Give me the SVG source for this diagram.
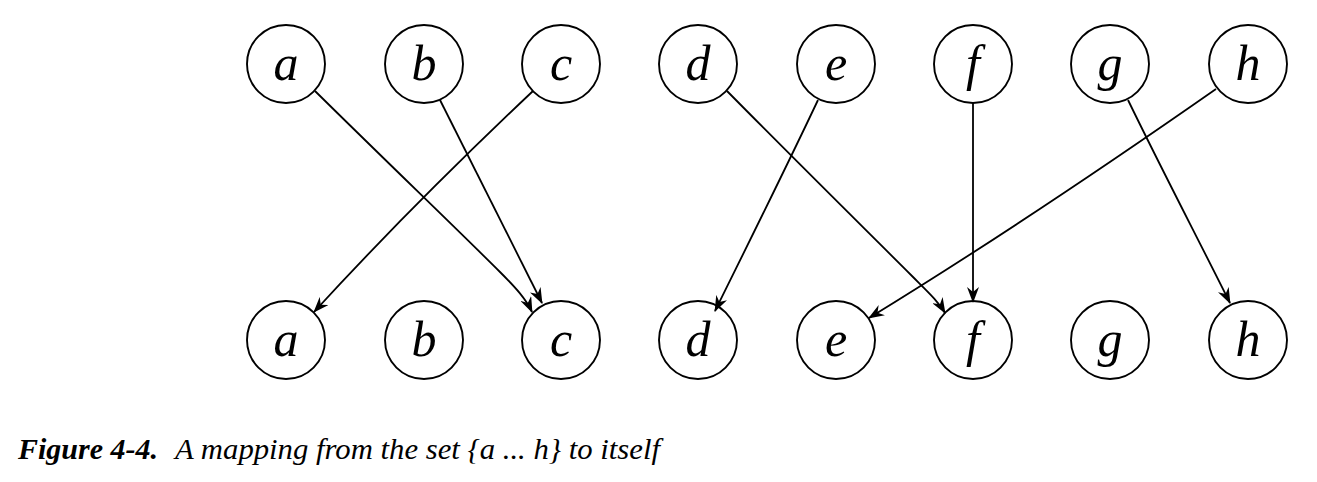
<svg xmlns="http://www.w3.org/2000/svg" width="1317" height="482" viewBox="0 0 1317 482">
  <style>
    .node circle { fill: #fff; stroke: #000; stroke-width: 1.9; }
    .node text { font-family: "Liberation Serif", serif; font-style: italic; font-size: 50px; text-anchor: middle; fill: #000; }
    .edges path { fill: none; stroke: #000; stroke-width: 1.8; marker-end: url(#arrow); }
    .cap { font-family: "Liberation Serif", serif; font-style: italic; font-size: 30px; fill: #000; }
    .cap .b { font-weight: bold; }
  </style>
  <defs>
    <marker id="arrow" viewBox="0 0 16 12" refX="15" refY="6" markerWidth="16" markerHeight="12" markerUnits="userSpaceOnUse" orient="auto">
      <path d="M0,0 L16,6 L0,12 L5,6 z" fill="#000"/>
    </marker>
  </defs>
  <rect width="1317" height="482" fill="#fff"/>

  <!-- source row -->
  <g id="top-a" class="node"><circle cx="286" cy="64" r="39"/><text x="286" y="80">a</text></g>
  <g id="top-b" class="node"><circle cx="424" cy="64" r="39"/><text x="424" y="80">b</text></g>
  <g id="top-c" class="node"><circle cx="561" cy="64" r="39"/><text x="561" y="80">c</text></g>
  <g id="top-d" class="node"><circle cx="698" cy="64" r="39"/><text x="698" y="80">d</text></g>
  <g id="top-e" class="node"><circle cx="836" cy="64" r="39"/><text x="836" y="80">e</text></g>
  <g id="top-f" class="node"><circle cx="973" cy="64" r="39"/><text x="973" y="80">f</text></g>
  <g id="top-g" class="node"><circle cx="1110" cy="64" r="39"/><text x="1110" y="80">g</text></g>
  <g id="top-h" class="node"><circle cx="1248" cy="64" r="39"/><text x="1248" y="80">h</text></g>

  <!-- target row -->
  <g id="bot-a" class="node"><circle cx="286" cy="340" r="39"/><text x="286" y="356">a</text></g>
  <g id="bot-b" class="node"><circle cx="424" cy="340" r="39"/><text x="424" y="356">b</text></g>
  <g id="bot-c" class="node"><circle cx="561" cy="340" r="39"/><text x="561" y="356">c</text></g>
  <g id="bot-d" class="node"><circle cx="698" cy="340" r="39"/><text x="698" y="356">d</text></g>
  <g id="bot-e" class="node"><circle cx="836" cy="340" r="39"/><text x="836" y="356">e</text></g>
  <g id="bot-f" class="node"><circle cx="973" cy="340" r="39"/><text x="973" y="356">f</text></g>
  <g id="bot-g" class="node"><circle cx="1110" cy="340" r="39"/><text x="1110" y="356">g</text></g>
  <g id="bot-h" class="node"><circle cx="1248" cy="340" r="39"/><text x="1248" y="356">h</text></g>

  <!-- mapping arrows -->
  <g id="edges" class="edges">
    <path d="M315,91 C390,165 460,232 500,272 C516,288 526,299 532,312"/>
    <path d="M440,100 C475,170 510,240 542,303"/>
    <path d="M533,91 C460,160 380,240 314,312"/>
    <path d="M727,91 C800,165 870,234 912,276 C928,292 938,301 945,313"/>
    <path d="M818,100 C785,170 750,240 715,311"/>
    <path d="M973,103 L973,302"/>
    <path d="M1128,100 C1162,170 1196,235 1230,303"/>
    <path d="M1216,89 C1100,170 980,250 869,318"/>
  </g>

  <text class="cap" x="18" y="459"><tspan class="b">Figure 4-4.</tspan><tspan x="175" textLength="485" lengthAdjust="spacingAndGlyphs">A mapping from the set {a ... h} to itself</tspan></text>
</svg>
